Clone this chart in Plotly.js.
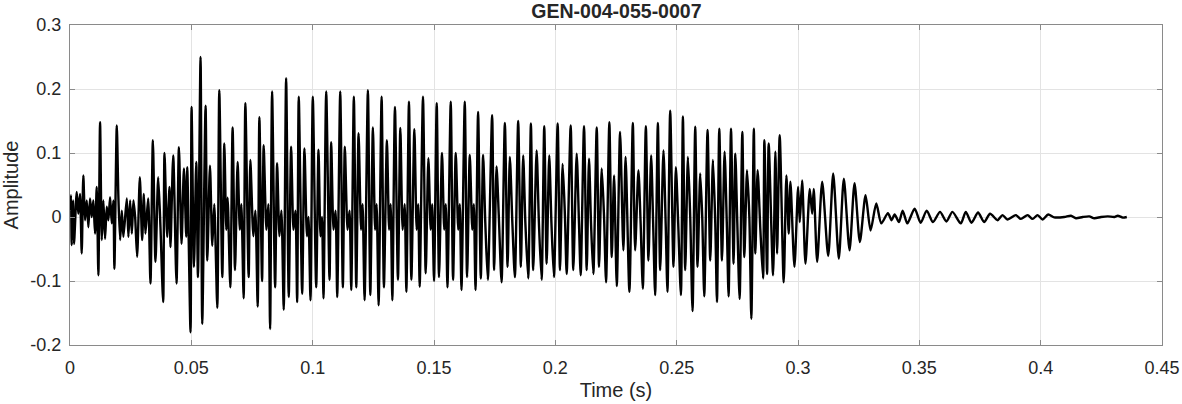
<!DOCTYPE html>
<html>
<head>
<meta charset="utf-8">
<script src="https://cdn.plot.ly/plotly-3.0.1.min.js"></script>
<style>html,body{margin:0;padding:0;background:#fff;}#chart{width:1182px;height:404px;}</style>
</head>
<body>
<div id="chart"></div>
<script>
// Waveform extrema (time in s, amplitude)
const time = [
0,0.00041,0.0007,0.00124,0.00165,0.00277,0.00343,0.00413,0.00483,0.00549,
0.00619,0.0069,0.00756,0.00826,0.00896,0.00962,0.01032,0.01102,0.01169,0.01239,
0.01309,0.01375,0.01445,0.01515,0.01581,0.01652,0.01722,0.01788,0.01829,0.01928,
0.01994,0.02065,0.02135,0.02201,0.02341,0.02407,0.02477,0.02548,0.02614,0.02684,
0.02766,0.02878,0.02973,0.03043,0.03109,0.03221,0.03316,0.03415,0.03522,0.03634,
0.03728,0.0384,0.03894,0.04005,0.041,0.04141,0.04253,0.04389,0.04488,0.04596,
0.04695,0.0479,0.04831,0.04967,0.05009,0.05108,0.05203,0.05273,0.0538,0.0545,
0.05587,0.05657,0.05768,0.05863,0.05946,0.0607,0.06152,0.06276,0.06359,0.06441,
0.06495,0.06606,0.06701,0.068,0.06908,0.06999,0.07061,0.07156,0.07226,0.07362,
0.07432,0.07556,0.07639,0.07734,0.07804,0.07915,0.07981,0.08093,0.08175,0.08246,
0.08328,0.08452,0.08535,0.0863,0.08712,0.08807,0.08906,0.09014,0.09113,0.09208,
0.0929,0.0936,0.09427,0.09567,0.09662,0.09765,0.09827,0.0991,0.10005,0.10145,
0.1024,0.10323,0.10384,0.10446,0.10558,0.10694,0.10764,0.10859,0.10942,0.11012,
0.11136,0.11243,0.11326,0.11437,0.1152,0.1159,0.11697,0.11797,0.11892,0.11995,
0.12057,0.12139,0.12276,0.12375,0.12482,0.12573,0.12635,0.12717,0.12841,0.12936,
0.1306,0.13151,0.13213,0.13283,0.1339,0.13514,0.13613,0.13708,0.13791,0.13861,
0.13968,0.14067,0.14191,0.14286,0.14348,0.1441,0.14546,0.14658,0.14769,0.14864,
0.14926,0.15001,0.15112,0.15207,0.15331,0.15422,0.15484,0.15554,0.1569,0.15785,
0.15897,0.16,0.16062,0.16132,0.16268,0.16363,0.16475,0.16578,0.1664,0.1671,
0.16817,0.16929,0.17024,0.17115,0.17218,0.17395,0.17478,0.17577,0.17672,0.17784,
0.1792,0.18032,0.18126,0.1823,0.18333,0.18469,0.1858,0.18675,0.18766,0.18882,
0.18993,0.19088,0.19229,0.19324,0.19435,0.19543,0.19642,0.19749,0.1984,0.19943,
0.20096,0.20191,0.20302,0.20397,0.20467,0.20633,0.2074,0.2088,0.20975,0.21045,
0.21182,0.21293,0.21388,0.21471,0.21566,0.21706,0.21801,0.21913,0.22008,0.2209,
0.22226,0.22325,0.22421,0.22532,0.22668,0.22804,0.22895,0.23052,0.23193,0.23288,
0.23424,0.23515,0.23606,0.2373,0.23837,0.23948,0.24031,0.24113,0.24225,0.2432,
0.24456,0.24547,0.24621,0.24733,0.24869,0.24968,0.25063,0.25175,0.25257,0.25352,
0.25464,0.25559,0.25654,0.25765,0.2586,0.25971,0.26054,0.26137,0.26273,0.26384,
0.26496,0.26591,0.26661,0.26756,0.26867,0.26975,0.27066,0.2714,0.27239,0.27346,
0.27417,0.27499,0.27594,0.27706,0.27788,0.279,0.27995,0.28077,0.2818,0.28242,
0.28337,0.28449,0.28561,0.28614,0.28726,0.28792,0.28973,0.29068,0.29138,0.29246,
0.29411,0.29522,0.29617,0.29688,0.29853,0.30005,0.30072,0.30171,0.30307,0.30485,
0.30584,0.30649,0.3079,0.30996,0.31244,0.31451,0.31682,0.31888,0.32124,0.3233,
0.32549,0.32784,0.32991,0.33226,0.33433,0.33705,0.33858,0.33982,0.3416,0.34312,
0.34506,0.34807,0.35055,0.35303,0.35563,0.35852,0.36116,0.36364,0.36707,0.36913,
0.37149,0.37421,0.37669,0.37917,0.38222,0.38429,0.38635,0.38978,0.39184,0.39461,
0.39667,0.39874,0.4008,0.40311,0.40559,0.40972,0.41249,0.41455,0.41732,0.42004,
0.42211,0.42487,0.42764,0.43037,0.43177,0.43384,0.43549
];
const amplitude = [
0.01,0.034,-0.044,0.026,-0.042,0.039,0.005,0.036,-0.057,0.065,
-0.005,0.026,-0.016,0.029,0.0,0.026,-0.026,0.047,-0.091,0.148,
-0.036,0.026,-0.034,0.016,-0.005,0.031,-0.01,0.026,-0.081,0.143,
0.031,-0.036,0.01,-0.031,0.029,-0.031,0.026,-0.026,0.026,0.0,
-0.062,0.062,-0.036,0.036,-0.026,0.029,-0.104,0.12,-0.07,0.062,
-0.016,-0.133,0.10,-0.031,0.047,-0.047,0.096,-0.104,0.109,-0.042,
0.076,-0.031,0.078,-0.18,0.172,-0.078,0.086,-0.094,0.25,-0.167,
0.174,-0.068,0.08,-0.045,0.02,-0.142,0.198,-0.094,0.115,-0.02,
0.03,-0.11,0.14,-0.083,0.086,-0.02,0.02,-0.127,0.178,-0.094,
0.089,-0.03,0.01,-0.14,0.156,-0.10,0.112,-0.02,0.02,-0.175,
0.196,-0.11,0.084,-0.03,0.01,-0.145,0.217,-0.125,0.11,-0.02,
0.01,-0.133,0.188,-0.12,0.107,-0.03,0.0,-0.13,0.188,-0.11,
0.105,-0.03,0.0,-0.127,0.196,-0.098,0.117,-0.02,0.01,-0.125,
0.196,-0.11,0.11,-0.02,0.01,-0.114,0.188,-0.11,0.131,-0.02,
0.02,-0.13,0.198,-0.122,0.14,-0.02,0.02,-0.138,0.188,-0.11,
0.12,-0.02,0.02,-0.13,0.172,-0.098,0.139,-0.02,0.02,-0.117,
0.18,-0.098,0.137,-0.02,0.02,-0.109,0.188,-0.088,0.092,-0.02,
0.02,-0.10,0.178,-0.094,0.10,-0.02,0.02,-0.11,0.18,-0.098,
0.10,-0.02,0.02,-0.114,0.18,-0.094,0.097,-0.02,0.02,-0.114,
0.164,-0.096,0.097,-0.01,-0.098,0.159,-0.083,0.079,0.0,-0.102,
0.147,-0.078,0.094,-0.01,-0.094,0.15,-0.078,0.096,-0.01,-0.096,
0.146,-0.083,0.104,-0.01,-0.098,0.142,-0.073,0.096,-0.01,-0.094,
0.146,-0.083,0.083,0.0,-0.089,0.143,-0.083,0.099,-0.01,-0.091,
0.142,-0.083,0.091,-0.01,-0.089,0.14,-0.078,0.076,0.0,-0.102,
0.148,-0.0625,0.065,-0.108,0.133,-0.052,0.094,-0.117,0.147,-0.052,
0.073,-0.01,-0.112,0.142,-0.068,0.096,-0.01,-0.122,0.147,-0.083,
0.104,-0.01,-0.117,0.166,-0.078,0.078,-0.01,-0.122,0.157,-0.083,
0.094,0.0,-0.147,0.141,-0.078,0.068,0.0,-0.124,0.136,-0.068,
0.089,-0.01,-0.133,0.138,-0.068,0.102,-0.01,-0.124,0.138,-0.073,
0.099,-0.01,-0.128,0.133,-0.0625,0.073,0.0,-0.159,0.138,-0.057,
0.073,-0.02,-0.096,0.12,-0.089,0.115,-0.091,0.102,-0.057,0.128,
-0.102,0.065,-0.026,0.055,-0.078,0.047,-0.008,0.057,-0.073,0.044,
0.005,0.044,-0.07,0.055,-0.061,0.068,-0.065,0.06,-0.052,0.053,
-0.039,0.034,-0.021,0.021,-0.01,0.006,-0.005,0.004,-0.008,0.010,
-0.010,0.013,-0.009,0.010,-0.008,0.008,-0.007,0.008,-0.010,0.008,
-0.009,0.007,-0.008,0.005,-0.005,0.003,-0.004,0.003,-0.003,0.003,
-0.003,0.003,-0.004,0.004,-0.0005,0.0,0.002,-0.002,0.0,0.001,
-0.002,0.0,0.001,0.0,0.002,-0.001,0.0
];
const xTickVals = [0,0.05,0.1,0.15,0.2,0.25,0.3,0.35,0.4,0.45];
const xTickText = ["0","0.05","0.1","0.15","0.2","0.25","0.3","0.35","0.4","0.45"];
const yTickVals = [-0.2,-0.1,0,0.1,0.2,0.3];
const yTickText = ["-0.2","-0.1","0","0.1","0.2","0.3"];
const chartTitle = "GEN-004-055-0007";

const trace = {
  x: time, y: amplitude, type: 'scatter', mode: 'lines',
  line: {color: '#000000', width: 2.4, shape: 'spline', smoothing: 0.7}, hoverinfo: 'skip'
};
const FONT = 'Liberation Sans, Arial, sans-serif';
const axisCommon = {
  showline: true, mirror: 'ticks', linecolor: '#8a8a8a', linewidth: 1,
  ticks: 'inside', ticklen: 5, tickcolor: '#8a8a8a', tickwidth: 1,
  showgrid: true, gridcolor: '#e3e3e3', gridwidth: 1, zeroline: false,
  tickfont: {family: FONT, size: 18, color: '#262626'}
};
const layout = {
  width: 1182, height: 404,
  margin: {l: 70, r: 20, t: 25, b: 59},
  paper_bgcolor: '#ffffff', plot_bgcolor: '#ffffff',
  showlegend: false,
  title: {text: '<b>' + chartTitle + '</b>', x: 0.5215, xanchor: 'center', y: 0.972, yanchor: 'middle',
          font: {family: FONT, size: 19.5, color: '#262626'}},
  xaxis: Object.assign({}, axisCommon, {
    range: [0, 0.45], tickvals: xTickVals, ticktext: xTickText, ticklabelstandoff: 6,
    title: {text: 'Time (s)', standoff: 6, font: {family: FONT, size: 20, color: '#262626'}}
  }),
  yaxis: Object.assign({}, axisCommon, {
    range: [-0.2, 0.3], tickvals: yTickVals, ticktext: yTickText, ticklabelstandoff: 4,
    title: {text: 'Amplitude', standoff: 6, font: {family: FONT, size: 20, color: '#262626'}}
  })
};
Plotly.newPlot('chart', [trace], layout, {displayModeBar: false, staticPlot: true});
</script>
</body>
</html>
